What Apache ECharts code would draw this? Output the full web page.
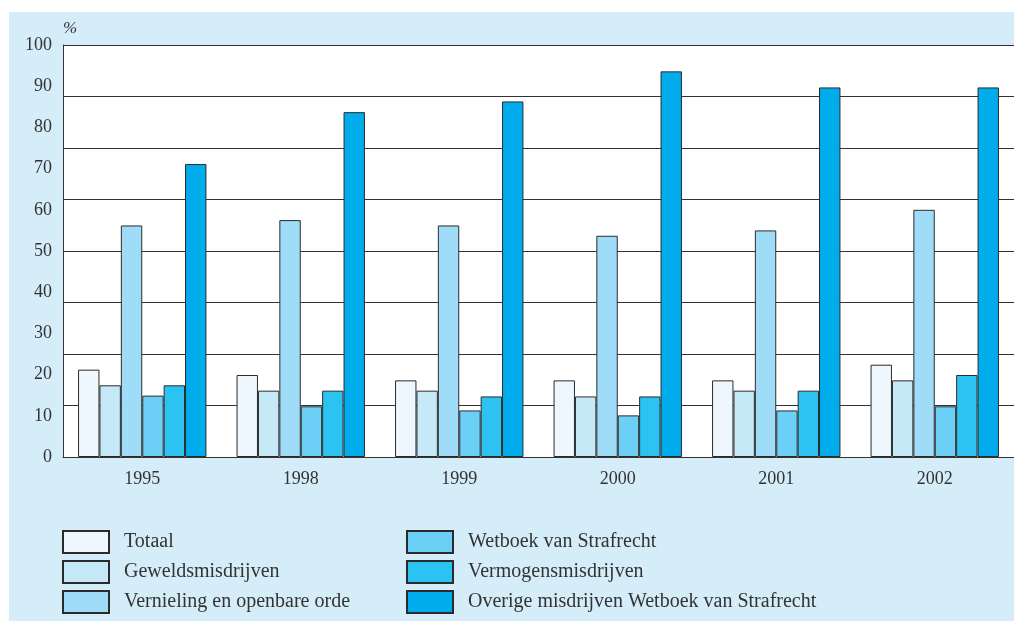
<!DOCTYPE html>
<html lang="nl">
  <head>
    <meta charset="UTF-8" />
    <title>Misdrijven</title>
    <style>
      html, body { margin: 0; padding: 0; background: #fff; }
      #main {
        position: absolute;
        left: 9px;
        top: 12px;
        width: 1005px;
        height: 609px;
      }
    </style>
  </head>
  <body>
    <script src="https://cdn.jsdelivr.net/npm/echarts@6/dist/echarts.min.js"></script>
    <div id="main"></div>
    <script>
      const years = ['1995', '1998', '1999', '2000', '2001', '2002']
      const names = [
        'Totaal',
        'Geweldsmisdrijven',
        'Vernieling en openbare orde',
        'Wetboek van Strafrecht',
        'Vermogensmisdrijven',
        'Overige misdrijven Wetboek van Strafrecht'
      ]
      const totaal = [21.2, 19.9, 18.6, 18.6, 18.6, 22.4]
      const geweld = [17.4, 16.1, 16.1, 14.7, 16.1, 18.6]
      const vernieling = [56.2, 57.5, 56.2, 53.7, 55.0, 60.0]
      const wetboek = [14.9, 12.3, 11.3, 10.1, 11.3, 12.3]
      const vermogen = [17.4, 16.1, 14.7, 14.7, 16.1, 19.9]
      const overige = [71.1, 83.7, 86.3, 93.6, 89.7, 89.7]
      const colors = ['#eef7fd', '#c6e9f8', '#9fdcf7', '#6ccff5', '#2cc3f2', '#00acec']

      const font = '"Liberation Serif", "DejaVu Serif", serif'
      const ink = '#333'

      const chart = echarts.init(document.getElementById('main'))
      const values = [totaal, geweld, vernieling, wetboek, vermogen, overige]

      const legendText = {
        fontFamily: font,
        fontSize: 20,
        lineHeight: 20,
        color: ink,
        padding: [0, 0, 0, 10]
      }

      chart.setOption({
        backgroundColor: '#d5edf9',
        animation: false,
        grid: {
          left: 54,
          top: 33,
          right: -2,
          bottom: 164,
          show: true,
          backgroundColor: '#fff',
          borderWidth: 0
        },
        legend: [
          {
            data: names.slice(0, 3),
            orient: 'vertical',
            left: 53,
            top: 518,
            padding: 0,
            itemWidth: 46,
            itemHeight: 22,
            itemGap: 6,
            icon: 'rect',
            selectedMode: false,
            textStyle: legendText
          },
          {
            data: names.slice(3),
            orient: 'vertical',
            left: 397,
            top: 518,
            padding: 0,
            itemWidth: 46,
            itemHeight: 22,
            itemGap: 6,
            icon: 'rect',
            selectedMode: false,
            textStyle: legendText
          }
        ],
        xAxis: {
          type: 'category',
          data: years,
          axisLine: { lineStyle: { color: ink, width: 1 } },
          axisTick: { show: false },
          axisLabel: { fontFamily: font, fontSize: 18, color: ink, margin: 13 }
        },
        yAxis: [
          {
            type: 'value',
            min: 0,
            max: 100,
            interval: 10,
            name: '%',
            nameLocation: 'end',
            nameGap: 8,
            nameTextStyle: { fontFamily: font, fontSize: 17, color: ink, align: 'left', fontStyle: 'italic' },
            axisLine: { show: true, lineStyle: { color: ink, width: 1 } },
            axisTick: { show: false },
            splitLine: { show: false },
            axisLabel: { fontFamily: font, fontSize: 18, color: ink, margin: 11 }
          },
          {
            type: 'value',
            min: 0,
            max: 100,
            interval: 12.5,
            position: 'left',
            axisLine: { show: false },
            axisTick: { show: false },
            axisLabel: { show: false },
            splitLine: { show: true, lineStyle: { color: ink, width: 1.2 } }
          }
        ],
        series: names.map((name, i) => ({
          name,
          type: 'bar',
          data: values[i],
          barGap: '0%',
          barCategoryGap: '19%',
          itemStyle: { color: colors[i], borderColor: '#2b2b2b', borderWidth: 1 }
        }))
      })
    </script>
  </body>
</html>
